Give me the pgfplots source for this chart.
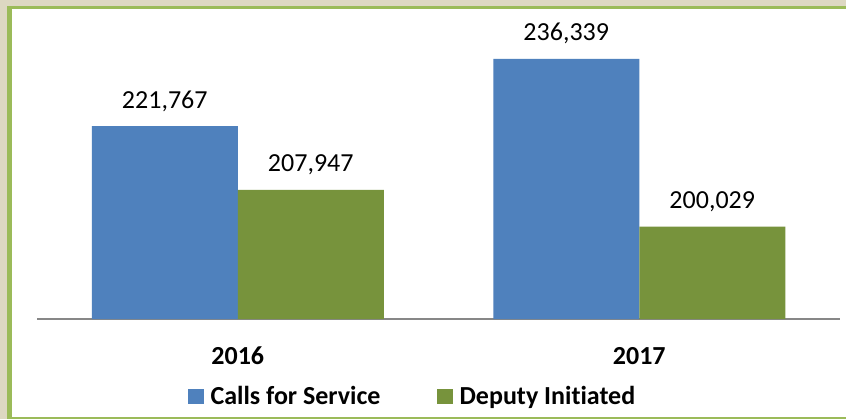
\documentclass[border=0pt]{standalone}
\usepackage{fontspec}
\setmainfont{Carlito}[RawFeature=-liga]
\usepackage{pgfplots}
\pgfplotsset{compat=1.18}
\definecolor{bgbeige}{HTML}{DDD8C2}
\definecolor{frgreen}{HTML}{9BBB59}
\definecolor{barblue}{HTML}{4F81BD}
\definecolor{bargreen}{HTML}{77933C}
\definecolor{axgray}{HTML}{878787}
\newcommand{\fs}{\fontsize{26bp}{31bp}\selectfont}
\begin{document}
\begin{tikzpicture}[x=1bp,y=1bp]
\useasboundingbox (0,0) rectangle (846,419);
\fill[bgbeige] (0,0) rectangle (846,419);
\fill[frgreen] (7,0) rectangle (846,413);
\fill[white] (12,2) rectangle (846,410);
\begin{axis}[
  at={(37bp,100bp)}, anchor=south west,
  scale only axis, width=803bp, height=277bp,
  clip=false,
  ybar=0pt, bar width=146bp,
  xmin=-0.5, xmax=1.5, ymin=180000, ymax=240000,
  axis x line*=bottom, axis y line=none,
  x axis line style={axgray, line width=1.5bp},
  xtick=data, xticklabels={2016,2017},
  xtick style={draw=none}, ytick=\empty,
  xticklabel style={font=\bfseries\fs, anchor=base, yshift=-41bp, inner sep=0pt},
  /pgf/number format/assume math mode=true,
  nodes near coords={\pgfmathprintnumber[fixed,precision=0,1000 sep={,}]{\pgfplotspointmeta}},
  nodes near coords style={font=\fs, anchor=base, yshift=18bp, inner sep=0pt, text=black},
  legend columns=2,
  legend style={draw=none, fill=none, font=\bfseries\fs, at={(0.1835,-0.278)}, anchor=west,
    nodes={inner sep=0pt},
    /tikz/every odd column/.append style={column sep=7bp},
    /tikz/every even column/.append style={column sep=56bp}},
  legend image code/.code={\fill[#1] (0bp,-7.5bp) rectangle (16bp,7.5bp);},
]
\addplot[fill=barblue, draw=none] coordinates {(0,221767) (1,236339)};
\addplot[fill=bargreen, draw=none] coordinates {(0,207947) (1,200029)};
\legend{Calls for Service, Deputy Initiated}
\end{axis}
\end{tikzpicture}
\end{document}
